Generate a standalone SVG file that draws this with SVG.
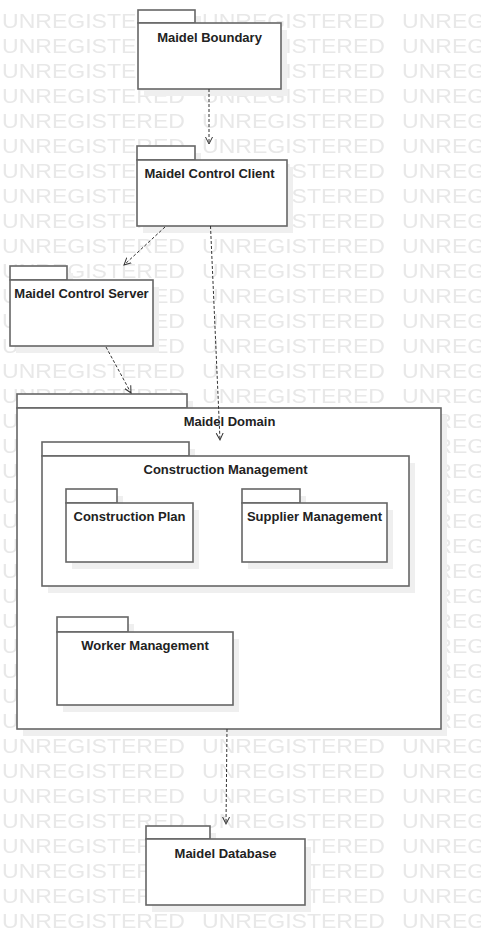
<svg xmlns="http://www.w3.org/2000/svg" width="481" height="945" viewBox="0 0 481 945">
<style>
.wm{font-family:"Liberation Sans",Arial,sans-serif;font-size:20px;fill:#e8e8e8}
.sh{fill:#efefef;stroke:none}
.pk{fill:#fff;stroke:#666;stroke-width:1.6}
.lbl{font-family:"Liberation Sans",Arial,sans-serif;font-size:13px;font-weight:bold;fill:#222;text-anchor:middle}
.dep{fill:none;stroke:#333;stroke-width:1;stroke-dasharray:3,2}
</style>
<defs>
<pattern id="wmp" patternUnits="userSpaceOnUse" x="2" y="8" width="200" height="25">
<text class="wm" x="0" y="20" textLength="183" lengthAdjust="spacingAndGlyphs">UNREGISTERED</text>
</pattern>
<marker id="open" markerUnits="userSpaceOnUse" markerWidth="10" markerHeight="10" refX="7" refY="4" orient="auto" viewBox="0 0 10 8">
<path d="M0,0.5 L7,4 L0,7.5" fill="none" stroke="#333" stroke-width="1"/>
</marker>
</defs>
<rect x="0" y="0" width="481" height="945" fill="#fff"/>
<rect x="0" y="8" width="481" height="925" fill="url(#wmp)"/>

<g id="maidel-boundary">
<rect class="sh" x="144" y="16" width="57" height="14"/>
<rect class="sh" x="144" y="30" width="143" height="66"/>
<rect class="pk" x="138" y="10" width="57" height="13"/>
<rect class="pk" x="138" y="23" width="143" height="66"/>
<text class="lbl" x="209.5" y="42">Maidel Boundary</text>
</g>

<g id="maidel-control-client">
<rect class="sh" x="143" y="153" width="58" height="14"/>
<rect class="sh" x="143" y="167" width="150" height="66"/>
<rect class="pk" x="137" y="146" width="58" height="14"/>
<rect class="pk" x="137" y="160" width="150" height="66"/>
<text class="lbl" x="209.5" y="178">Maidel Control Client</text>
</g>

<g id="maidel-control-server">
<rect class="sh" x="16" y="273" width="57" height="14"/>
<rect class="sh" x="16" y="287" width="143" height="66"/>
<rect class="pk" x="10" y="266" width="57" height="14"/>
<rect class="pk" x="10" y="280" width="143" height="66"/>
<text class="lbl" x="81.5" y="298">Maidel Control Server</text>
</g>

<g id="maidel-domain">
<rect class="sh" x="23" y="401" width="170" height="14"/>
<rect class="sh" x="23" y="415" width="424" height="321"/>
<rect class="pk" x="17" y="394" width="170" height="14"/>
<rect class="pk" x="17" y="408" width="424" height="321"/>
<text class="lbl" x="229.5" y="426">Maidel Domain</text>
</g>

<g id="construction-management">
<rect class="sh" x="48" y="449" width="147" height="14"/>
<rect class="sh" x="48" y="463" width="367" height="130"/>
<rect class="pk" x="42" y="442" width="147" height="14"/>
<rect class="pk" x="42" y="456" width="367" height="130"/>
<text class="lbl" x="225.5" y="474">Construction Management</text>
</g>

<g id="construction-plan">
<rect class="sh" x="72" y="496" width="51" height="14"/>
<rect class="sh" x="72" y="510" width="127" height="59"/>
<rect class="pk" x="66" y="489" width="51" height="14"/>
<rect class="pk" x="66" y="503" width="127" height="59"/>
<text class="lbl" x="129.5" y="521">Construction Plan</text>
</g>

<g id="supplier-management">
<rect class="sh" x="248" y="496" width="58" height="14"/>
<rect class="sh" x="248" y="510" width="145" height="59"/>
<rect class="pk" x="242" y="489" width="58" height="14"/>
<rect class="pk" x="242" y="503" width="145" height="59"/>
<text class="lbl" x="314.5" y="521">Supplier Management</text>
</g>

<g id="worker-management">
<rect class="sh" x="63" y="624" width="71" height="15"/>
<rect class="sh" x="63" y="639" width="176" height="73"/>
<rect class="pk" x="57" y="617" width="71" height="15"/>
<rect class="pk" x="57" y="632" width="176" height="73"/>
<text class="lbl" x="145" y="650">Worker Management</text>
</g>

<g id="maidel-database">
<rect class="sh" x="152" y="833" width="64" height="14"/>
<rect class="sh" x="152" y="847" width="159" height="65"/>
<rect class="pk" x="146" y="826" width="64" height="13"/>
<rect class="pk" x="146" y="839" width="159" height="66"/>
<text class="lbl" x="225.5" y="858">Maidel Database</text>
</g>

<g id="connectors">
<path class="dep" d="M209,89 L209,144" marker-end="url(#open)"/>
<path class="dep" d="M165,227 L124,265" marker-end="url(#open)"/>
<path class="dep" d="M106,347 L131,393" marker-end="url(#open)"/>
<path class="dep" d="M210.5,226 L220,440" marker-end="url(#open)"/>
<path class="dep" d="M227,729 L226,824" marker-end="url(#open)"/>
</g>
</svg>
